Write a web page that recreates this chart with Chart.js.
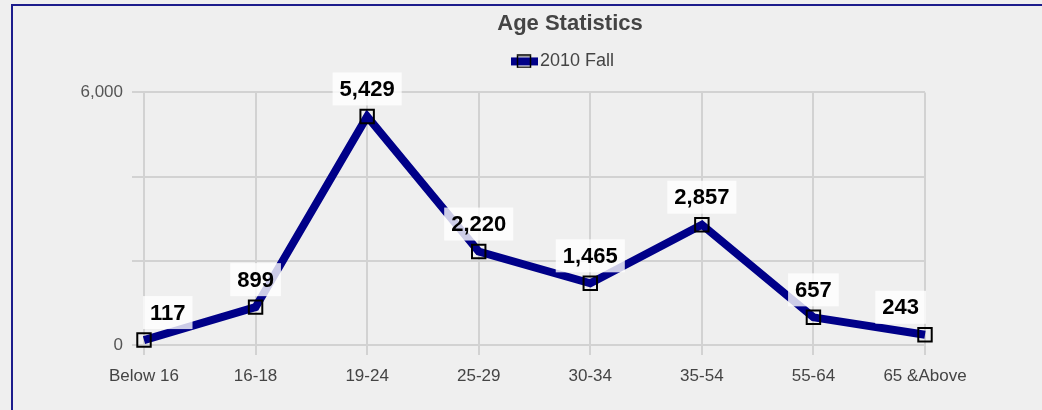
<!DOCTYPE html>
<html lang="en">
<head>
    <meta charset="UTF-8">
    <title>Age Statistics</title>
    <script src="https://cdn.jsdelivr.net/npm/chart.js"></script>
    <style>
        html, body { margin: 0; padding: 0; background: #efefef; overflow: hidden; width: 1042px; height: 410px; }
        #frame { position: absolute; left: 11px; top: 4px; width: 1200px; height: 600px; border: 2px solid #1c1c8c; box-sizing: border-box; }
        #wrap { position: absolute; left: 13px; top: 7px; width: 1114px; height: 400px; }
    </style>
    <script>
        const categories = ['Below 16', '16-18', '19-24', '25-29', '30-34', '35-54', '55-64', '65 &Above'];
        const fall2010 = [117, 899, 5429, 2220, 1465, 2857, 657, 243];
        const labeledTicks = [0, 6000];

        document.addEventListener('DOMContentLoaded', () => {
            const navy = '#000088';
            const fmt = v => v.toLocaleString('en-US');

            // legend marker: thick line with a hollow square on it (right part left blank)
            const marker = document.createElement('canvas');
            marker.width = 35;
            marker.height = 14;
            const m = marker.getContext('2d');
            m.fillStyle = navy;
            m.fillRect(0, 3, 27, 8);
            m.strokeStyle = '#000';
            m.lineWidth = 1.5;
            m.strokeRect(6.5, 1, 13, 12);

            const valueLabels = {
                id: 'valueLabels',
                afterDatasetsDraw(chart) {
                    const ctx = chart.ctx;
                    const area = chart.chartArea;
                    const meta = chart.getDatasetMeta(0);
                    ctx.save();
                    ctx.font = 'bold 22px "Liberation Sans", Arial, sans-serif';
                    ctx.textAlign = 'center';
                    ctx.textBaseline = 'middle';
                    meta.data.forEach((pt, i) => {
                        const text = fmt(fall2010[i]);
                        const w = ctx.measureText(text).width + 14;
                        const h = 33;
                        let cx = pt.x;
                        cx = Math.max(cx, area.left - 1 + w / 2);
                        cx = Math.min(cx, area.right + 1 - w / 2);
                        const bottom = pt.y - 11;
                        ctx.fillStyle = 'rgba(255, 255, 255, 0.8)';
                        ctx.fillRect(cx - w / 2, bottom - h, w, h);
                        ctx.fillStyle = '#000';
                        ctx.fillText(text, cx, bottom - h / 2 + 1);
                    });
                    ctx.restore();
                }
            };

            // extra room under the legend, before the plot
            const legendGap = {
                id: 'legendGap',
                beforeLayout(chart) {
                    const lg = chart.legend;
                    if (lg && !lg._gapAdded) {
                        const fit = lg.fit.bind(lg);
                        lg.fit = function () { fit(); this.height += 12; };
                        lg._gapAdded = true;
                    }
                }
            };

            const ctx = document.getElementById('ageChart').getContext('2d');
            new Chart(ctx, {
                type: 'line',
                data: {
                    labels: categories,
                    datasets: [{
                        label: '2010 Fall',
                        data: fall2010,
                        borderColor: navy,
                        backgroundColor: navy,
                        borderWidth: 8,
                        fill: false,
                        tension: 0,
                        clip: false,
                        pointStyle: 'rect',
                        pointRadius: 9.5,
                        pointHoverRadius: 9.5,
                        pointBorderColor: '#000',
                        pointBackgroundColor: 'rgba(0,0,0,0)',
                        pointBorderWidth: 2
                    }]
                },
                options: {
                    responsive: true,
                    maintainAspectRatio: false,
                    animation: false,
                    font: { family: '"Liberation Sans", Arial, sans-serif' },
                    scales: {
                        x: {
                            offset: false,
                            grid: { color: '#d2d2d2', lineWidth: 2, tickLength: 10 },
                            border: { display: false },
                            ticks: { color: '#444', padding: 11, font: { size: 17 }, maxRotation: 0 },
                            afterFit: s => { s.height = 62; }
                        },
                        y: {
                            min: 0,
                            max: 6000,
                            grid: { color: '#d2d2d2', lineWidth: 2, tickLength: 12 },
                            border: { display: false },
                            ticks: {
                                stepSize: 2000,
                                color: '#555',
                                padding: 9,
                                font: { size: 17 },
                                callback: v => labeledTicks.includes(v) ? fmt(v) : ''
                            },
                            afterFit: s => { s.width = 131; }
                        },
                        yRight: {
                            position: 'right',
                            display: true,
                            grid: { display: false },
                            border: { display: false },
                            ticks: { display: false },
                            afterFit: s => { s.width = 202; }
                        }
                    },
                    plugins: {
                        title: {
                            display: true,
                            text: 'Age Statistics',
                            color: '#444',
                            font: { size: 22, weight: 'bold' },
                            padding: { top: 4, bottom: 2 }
                        },
                        legend: {
                            display: true,
                            labels: {
                                usePointStyle: true,
                                pointStyle: marker,
                                pointStyleWidth: 5,
                                color: '#444',
                                padding: 13,
                                font: { size: 18 }
                            }
                        },
                        tooltip: { enabled: false }
                    }
                },
                plugins: [valueLabels, legendGap]
            });
        });
    </script>
</head>
<body>
    <div id="frame"></div>
    <div id="wrap"><canvas id="ageChart"></canvas></div>
</body>
</html>
